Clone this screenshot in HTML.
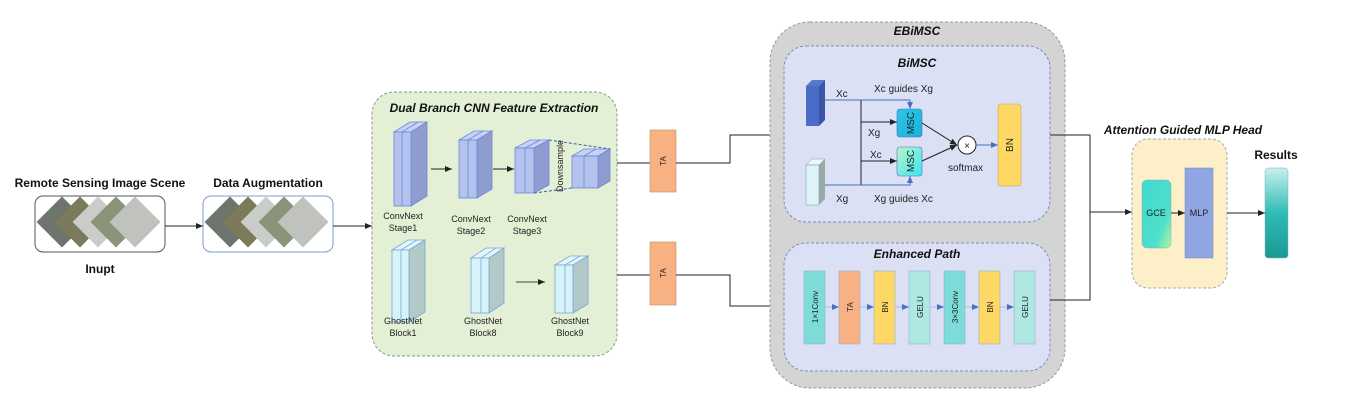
<!DOCTYPE html>
<html><head><meta charset="utf-8"><style>
html,body{margin:0;padding:0;background:#fff}
svg{display:block}
text{font-family:"Liberation Sans",sans-serif}
</style></head><body>
<svg width="1367" height="402" viewBox="0 0 1367 402" xmlns="http://www.w3.org/2000/svg">
<defs>
<marker id="a" markerWidth="8" markerHeight="8" refX="7" refY="4" orient="auto" markerUnits="userSpaceOnUse"><path d="M0,1 L7,4 L0,7 Z" fill="#222"/></marker>
<marker id="ab" markerWidth="8" markerHeight="8" refX="7" refY="4" orient="auto" markerUnits="userSpaceOnUse"><path d="M0,1 L7,4 L0,7 Z" fill="#4a6fc4"/></marker>
<linearGradient id="gce" x1="0" y1="0" x2="1" y2="1"><stop offset="0" stop-color="#3fd9d0"/><stop offset="0.7" stop-color="#4fe0cc"/><stop offset="1" stop-color="#b8f59a"/></linearGradient>
<linearGradient id="res" x1="0" y1="0" x2="0" y2="1"><stop offset="0" stop-color="#c8f0ec"/><stop offset="0.5" stop-color="#2fbcb4"/><stop offset="1" stop-color="#1a9a94"/></linearGradient>
<linearGradient id="msc1" x1="0" y1="0" x2="1" y2="1"><stop offset="0" stop-color="#2fc6e6"/><stop offset="1" stop-color="#16b2d8"/></linearGradient>
<linearGradient id="msc2" x1="0" y1="0" x2="1" y2="1"><stop offset="0" stop-color="#b9f5c9"/><stop offset="1" stop-color="#3be6ef"/></linearGradient>
</defs>

<!-- left texts -->
<text x="100" y="187" font-size="12" font-weight="bold" text-anchor="middle" fill="#111">Remote Sensing Image Scene</text>
<text x="268" y="187" font-size="12" font-weight="bold" text-anchor="middle" fill="#111">Data Augmentation</text>
<text x="100" y="273" font-size="12" font-weight="bold" text-anchor="middle" fill="#111">Inupt</text>

<rect x="35" y="196" width="130" height="56" rx="8" fill="#fff" stroke="#555"/>
<g>
<rect x="44" y="204" width="36" height="36" fill="#6e756c" transform="rotate(45 62 222)"/>
<rect x="62" y="204" width="36" height="36" fill="#7b7a5a" transform="rotate(45 80 222)"/>
<rect x="80" y="204" width="36" height="36" fill="#c9ccc8" transform="rotate(45 98 222)"/>
<rect x="98" y="204" width="36" height="36" fill="#8a9478" transform="rotate(45 116 222)"/>
<rect x="117" y="204" width="36" height="36" fill="#bfc2bd" transform="rotate(45 135 222)"/>
</g>
<rect x="203" y="196" width="130" height="56" rx="8" fill="#fff" stroke="#7e9bd0"/>
<g>
<rect x="212" y="204" width="36" height="36" fill="#6e756c" transform="rotate(45 230 222)"/>
<rect x="230" y="204" width="36" height="36" fill="#7b7a5a" transform="rotate(45 248 222)"/>
<rect x="248" y="204" width="36" height="36" fill="#c9ccc8" transform="rotate(45 266 222)"/>
<rect x="266" y="204" width="36" height="36" fill="#8a9478" transform="rotate(45 284 222)"/>
<rect x="285" y="204" width="36" height="36" fill="#bfc2bd" transform="rotate(45 303 222)"/>
</g>
<line x1="165" y1="226" x2="203" y2="226" stroke="#222" marker-end="url(#a)"/>
<line x1="333" y1="226" x2="372" y2="226" stroke="#222" marker-end="url(#a)"/>

<!-- green box -->
<rect x="372" y="92" width="245" height="264" rx="22" fill="#e3f0d5" stroke="#8a9a8a" stroke-dasharray="3,2"/>
<text x="494" y="112" font-size="12" font-weight="bold" font-style="italic" text-anchor="middle" fill="#111">Dual Branch CNN Feature Extraction</text>

<g stroke="#6f86d6" stroke-width="0.8">
<!-- stage1 -->
<polygon points="394,132 410,122 427,122 411,132" fill="#c6d2f4"/>
<polygon points="411,132 427,122 427,196 411,206" fill="#8f9cd0"/>
<rect x="394" y="132" width="17" height="74" fill="#b3c3ee"/><line x1="402" y1="132" x2="402" y2="206"/><line x1="402" y1="132" x2="418" y2="122"/>
<!-- stage2 -->
<polygon points="459,140 474,131 492,131 477,140" fill="#c6d2f4"/>
<polygon points="477,140 492,131 492,189 477,198" fill="#8f9cd0"/>
<rect x="459" y="140" width="18" height="58" fill="#b3c3ee"/><line x1="468" y1="140" x2="468" y2="198"/><line x1="468" y1="140" x2="483" y2="131"/>
<!-- stage3 -->
<polygon points="515,148 530,140 549,140 534,148" fill="#c6d2f4"/>
<polygon points="534,148 549,140 549,185 534,193" fill="#8f9cd0"/>
<rect x="515" y="148" width="19" height="45" fill="#b3c3ee"/><line x1="525" y1="148" x2="525" y2="193"/><line x1="525" y1="148" x2="540" y2="140"/>
<!-- downsample -->
<polygon points="572,156 584,149 610,149 598,156" fill="#c6d2f4"/>
<polygon points="598,156 610,149 610,181 598,188" fill="#8f9cd0"/>
<rect x="572" y="156" width="26" height="32" fill="#b3c3ee"/><line x1="584" y1="156" x2="584" y2="188"/><line x1="584" y1="156" x2="596" y2="149"/>
</g>
<line x1="549" y1="140" x2="610" y2="149" stroke="#3a5ab0" stroke-dasharray="3,2"/>
<line x1="534" y1="193" x2="572" y2="188" stroke="#3a5ab0" stroke-dasharray="3,2"/>
<text transform="translate(563,192) rotate(-90)" font-size="9" fill="#222">Downsample</text>
<line x1="431" y1="169" x2="452" y2="169" stroke="#222" marker-end="url(#a)"/>
<line x1="493" y1="169" x2="514" y2="169" stroke="#222" marker-end="url(#a)"/>

<g stroke="#7aa6d6" stroke-width="0.8">
<polygon points="392,250 408,240 425,240 409,250" fill="#e2f7fa"/>
<polygon points="409,250 425,240 425,312 409,322" fill="#b2c9c8"/>
<rect x="392" y="250" width="17" height="72" fill="#d5f3f8"/><line x1="401" y1="250" x2="401" y2="322"/><line x1="401" y1="250" x2="417" y2="240"/>
<polygon points="471,258 486,248 504,248 489,258" fill="#e2f7fa"/>
<polygon points="489,258 504,248 504,303 489,313" fill="#b2c9c8"/>
<rect x="471" y="258" width="18" height="55" fill="#d5f3f8"/><line x1="481" y1="258" x2="481" y2="313"/><line x1="481" y1="258" x2="496" y2="248"/>
<polygon points="555,265 570,256 588,256 573,265" fill="#e2f7fa"/>
<polygon points="573,265 588,256 588,304 573,313" fill="#b2c9c8"/>
<rect x="555" y="265" width="18" height="48" fill="#d5f3f8"/><line x1="565" y1="265" x2="565" y2="313"/><line x1="565" y1="265" x2="580" y2="256"/>
</g>
<line x1="516" y1="282" x2="545" y2="282" stroke="#444" marker-end="url(#a)"/>

<g font-size="9" fill="#222" text-anchor="middle">
<text x="403" y="219">ConvNext</text><text x="403" y="231">Stage1</text>
<text x="471" y="222">ConvNext</text><text x="471" y="234">Stage2</text>
<text x="527" y="222">ConvNext</text><text x="527" y="234">Stage3</text>
<text x="403" y="324">GhostNet</text><text x="403" y="336">Block1</text>
<text x="483" y="324">GhostNet</text><text x="483" y="336">Block8</text>
<text x="570" y="324">GhostNet</text><text x="570" y="336">Block9</text>
</g>

<!-- TA -->
<line x1="617" y1="163" x2="650" y2="163" stroke="#222"/>
<line x1="617" y1="275" x2="650" y2="275" stroke="#222"/>
<rect x="650" y="130" width="26" height="62" fill="#f7b183" stroke="#c88a60" stroke-width="0.6"/>
<rect x="650" y="242" width="26" height="63" fill="#f7b183" stroke="#c88a60" stroke-width="0.6"/>
<text transform="translate(666,161) rotate(-90)" font-size="8" text-anchor="middle" fill="#222">TA</text>
<text transform="translate(666,273) rotate(-90)" font-size="8" text-anchor="middle" fill="#222">TA</text>
<polyline points="676,163 730,163 730,135 784,135" fill="none" stroke="#222" marker-end="url(#a)"/>
<polyline points="676,275 730,275 730,306 784,306" fill="none" stroke="#222" marker-end="url(#a)"/>

<!-- EBiMSC -->
<rect x="770" y="22" width="295" height="366" rx="40" fill="#d4d4d4" stroke="#999" stroke-dasharray="3,2"/>
<text x="917" y="35" font-size="12" font-weight="bold" font-style="italic" text-anchor="middle" fill="#111">EBiMSC</text>
<rect x="784" y="46" width="266" height="176" rx="22" fill="#dbe0f5" stroke="#7b8cc0" stroke-dasharray="3,2"/>
<text x="917" y="67" font-size="12" font-weight="bold" font-style="italic" text-anchor="middle" fill="#111">BiMSC</text>
<rect x="784" y="243" width="266" height="128" rx="22" fill="#dbe0f5" stroke="#7b8cc0" stroke-dasharray="3,2"/>
<text x="917" y="258" font-size="12" font-weight="bold" font-style="italic" text-anchor="middle" fill="#111">Enhanced Path</text>

<!-- BiMSC inner -->
<polygon points="806,86 812,80 825,80 819,86" fill="#5878cc"/>
<polygon points="819,86 825,80 825,120 819,126" fill="#3a56a8"/>
<rect x="806" y="86" width="13" height="40" fill="#4a6cc8"/>
<polygon points="806,165 812,159 825,159 819,165" fill="#eaf8fb" stroke="#7a9ab0" stroke-width="0.5"/>
<polygon points="819,165 825,159 825,199 819,205" fill="#9aaaa8"/>
<rect x="806" y="165" width="13" height="40" fill="#dcf4f8" stroke="#7a9ab0" stroke-width="0.5"/>
<line x1="861" y1="100" x2="861" y2="185" stroke="#222"/>
<polyline points="825,100 910,100 910,109" fill="none" stroke="#4a6fc4" marker-end="url(#ab)"/>
<polyline points="825,185 910,185 910,176" fill="none" stroke="#4a6fc4" marker-end="url(#ab)"/>
<line x1="861" y1="122" x2="897" y2="122" stroke="#222" marker-end="url(#a)"/>
<line x1="861" y1="161" x2="897" y2="161" stroke="#222" marker-end="url(#a)"/>
<rect x="897" y="109" width="25" height="28" rx="3" fill="url(#msc1)" stroke="#4a6fc4" stroke-width="0.6"/>
<rect x="897" y="147" width="25" height="29" rx="3" fill="url(#msc2)" stroke="#4a6fc4" stroke-width="0.6"/>
<text transform="translate(914,123) rotate(-90)" font-size="10" text-anchor="middle" fill="#222">MSC</text>
<text transform="translate(914,161) rotate(-90)" font-size="10" text-anchor="middle" fill="#222">MSC</text>
<line x1="922" y1="123" x2="957" y2="145" stroke="#222" marker-end="url(#a)"/>
<line x1="922" y1="161" x2="957" y2="145" stroke="#222" marker-end="url(#a)"/>
<circle cx="967" cy="145" r="9" fill="#fff" stroke="#222"/>
<text x="967" y="149" font-size="10" text-anchor="middle" fill="#222">×</text>
<line x1="976" y1="145" x2="998" y2="145" stroke="#4a6fc4" marker-end="url(#ab)"/>
<rect x="998" y="104" width="23" height="82" rx="3" fill="#fdd865" stroke="#c8a84a" stroke-width="0.6"/>
<text transform="translate(1013,145) rotate(-90)" font-size="10" text-anchor="middle" fill="#222">BN</text>
<g font-size="10" fill="#222">
<text x="836" y="97">Xc</text><text x="874" y="92">Xc guides Xg</text>
<text x="868" y="136">Xg</text><text x="870" y="158">Xc</text>
<text x="836" y="202">Xg</text><text x="874" y="202">Xg guides Xc</text>
<text x="948" y="171">softmax</text>
</g>

<!-- Enhanced blocks -->
<g stroke="#8aa8c8" stroke-width="0.5" font-size="8" fill="#222">
<rect x="804" y="271" width="21" height="73" fill="#7ddcd8"/>
<rect x="839" y="271" width="21" height="73" fill="#f7b183"/>
<rect x="874" y="271" width="21" height="73" fill="#fdd865"/>
<rect x="909" y="271" width="21" height="73" fill="#aee8e0"/>
<rect x="944" y="271" width="21" height="73" fill="#7ddcd8"/>
<rect x="979" y="271" width="21" height="73" fill="#fdd865"/>
<rect x="1014" y="271" width="21" height="73" fill="#aee8e0"/>
</g>
<g stroke="#9ab0e0" stroke-width="0.8">
<line x1="825" y1="307" x2="839" y2="307" marker-end="url(#ab)"/>
<line x1="860" y1="307" x2="874" y2="307" marker-end="url(#ab)"/>
<line x1="895" y1="307" x2="909" y2="307" marker-end="url(#ab)"/>
<line x1="930" y1="307" x2="944" y2="307" marker-end="url(#ab)"/>
<line x1="965" y1="307" x2="979" y2="307" marker-end="url(#ab)"/>
<line x1="1000" y1="307" x2="1014" y2="307" marker-end="url(#ab)"/>
</g>
<g font-size="8" fill="#222" text-anchor="middle">
<text transform="translate(818,307) rotate(-90)">1×1Conv</text>
<text transform="translate(853,307) rotate(-90)">TA</text>
<text transform="translate(888,307) rotate(-90)">BN</text>
<text transform="translate(923,307) rotate(-90)">GELU</text>
<text transform="translate(958,307) rotate(-90)">3×3Conv</text>
<text transform="translate(993,307) rotate(-90)">BN</text>
<text transform="translate(1028,307) rotate(-90)">GELU</text>
</g>

<!-- right connections -->
<polyline points="1050,135 1090,135 1090,300 1050,300" fill="none" stroke="#222"/>
<line x1="1090" y1="212" x2="1132" y2="212" stroke="#222" marker-end="url(#a)"/>

<!-- head -->
<text x="1183" y="134" font-size="12" font-weight="bold" font-style="italic" text-anchor="middle" fill="#111">Attention Guided MLP Head</text>
<rect x="1132" y="139" width="95" height="149" rx="16" fill="#fdefc8" stroke="#aaa" stroke-dasharray="3,2"/>
<rect x="1142" y="180" width="29" height="68" rx="5" fill="url(#gce)" stroke="#8aa" stroke-width="0.5"/>
<text x="1156" y="216" font-size="9" text-anchor="middle" fill="#222">GCE</text>
<line x1="1171" y1="213" x2="1185" y2="213" stroke="#222" marker-end="url(#a)"/>
<rect x="1185" y="168" width="28" height="90" fill="#8fa6e2" stroke="#6f86c6" stroke-width="0.5"/>
<text x="1199" y="216" font-size="9" text-anchor="middle" fill="#222">MLP</text>
<line x1="1227" y1="213" x2="1265" y2="213" stroke="#222" marker-end="url(#a)"/>
<text x="1276" y="159" font-size="12" font-weight="bold" text-anchor="middle" fill="#111">Results</text>
<rect x="1265" y="168" width="23" height="90" rx="3" fill="url(#res)" stroke="#8ab" stroke-width="0.5"/>
</svg>
</body></html>
